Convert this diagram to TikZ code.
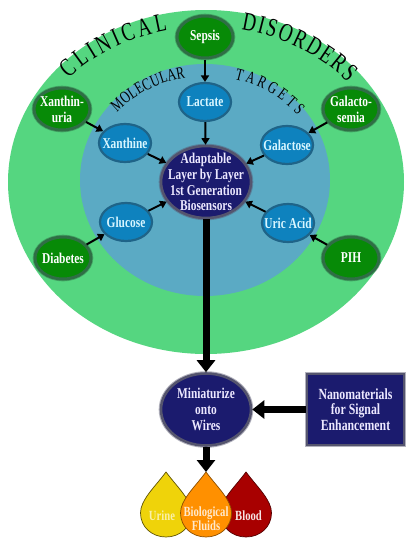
\documentclass[tikz,border=0pt]{standalone}
\usepackage{fontspec}
\setmainfont[FakeStretch=0.76]{Liberation Serif}
\newfontfamily\arcfont[FakeStretch=0.72]{Liberation Serif}
\usetikzlibrary{shapes.geometric,arrows.meta,decorations.text}
\definecolor{outerg}{HTML}{55D680}
\definecolor{innerb}{HTML}{5BAAC4}
\definecolor{nodeb}{HTML}{0E82BE}
\definecolor{rimb}{HTML}{1F6488}
\definecolor{nodeg}{HTML}{078A07}
\definecolor{rimg}{HTML}{2F6E45}
\definecolor{navy}{HTML}{1B1B6E}
\definecolor{rimn}{HTML}{55556E}
\definecolor{txtb}{HTML}{D8F6FF}
\definecolor{txtn}{HTML}{ECE8FF}
\definecolor{dropy}{HTML}{EFD30A}
\definecolor{dropo}{HTML}{FF9000}
\definecolor{dropr}{HTML}{A80000}
\tikzset{
  ell/.style={ellipse,inner xsep=-9pt,inner ysep=-9pt,align=center,font=\fontsize{15}{15.8}\selectfont\bfseries},
  softrim/.style={preaction={draw=#1,draw opacity=0.45,line width=4.6pt}},
  bluenode/.style={ell,fill=nodeb,draw=rimb,line width=2.2pt,text=txtb,minimum width=52pt,minimum height=38pt},
  greennode/.style={ell,softrim=rimg,fill=nodeg,draw=rimg,line width=3pt,text=white,minimum width=56pt,minimum height=42pt},
  navynode/.style={ell,softrim=rimn,fill=navy,draw=rimn,line width=2.6pt,text=txtn,minimum width=90pt,minimum height=72pt},
  thin arrow/.style={draw=black,line width=2pt,-{Triangle[width=8pt,length=6.5pt]}},
  thick arrow/.style={draw=black,line width=7pt,-{Triangle[width=18pt,length=12pt]}},
  droplabel/.style={font=\fontsize{14}{14}\selectfont\bfseries,inner sep=0pt,align=center},
  dropline/.style={line width=0.7pt},
}
\newcommand{\dropshape}[1]{(#1,472) .. controls (#1+12,488) and (#1+25.5,500) .. (#1+25.5,513) .. controls (#1+25.5,527) and (#1+14,537) .. (#1,537) .. controls (#1-14,537) and (#1-25.5,527) .. (#1-25.5,513) .. controls (#1-25.5,500) and (#1-12,488) .. (#1,472) -- cycle}
\begin{document}
\begin{tikzpicture}[x=1pt,y=-1pt]
\useasboundingbox (0,0) rectangle (417,550);
\fill[white] (0,0) rectangle (417,550);
\fill[outerg] (206,182) ellipse [x radius=198,y radius=172];
\fill[innerb] (205,180) ellipse [x radius=125,y radius=116];

% curved titles
\path[decorate,decoration={text along path,text align={fit to path},text={|\arcfont\fontsize{26}{26}\selectfont|CLINICAL}}]
  plot[domain=138:102,samples=30] ({206+185*cos(\x)},{182-155*sin(\x)});
\path[decorate,decoration={text along path,text align={fit to path},text={|\arcfont\fontsize{26}{26}\selectfont|DISORDERS}}]
  plot[domain=79:40,samples=30] ({206+185*cos(\x)},{182-155*sin(\x)});
\path[decorate,decoration={text along path,text align={fit to path},text={|\arcfont\fontsize{17}{17}\selectfont|MOLECULAR}}]
  plot[domain=139:100,samples=30] ({206+118*cos(\x)},{182-106*sin(\x)});
\path[decorate,decoration={text along path,text align={fit to path},text={|\arcfont\fontsize{17}{17}\selectfont|TARGETS}}]
  plot[domain=76:39,samples=30] ({206+118*cos(\x)},{182-106*sin(\x)});

% nodes
\node[greennode] (sepsis) at (205,37) {Sepsis};
\node[greennode] (xuria) at (62,109) {Xanthin-\\uria};
\node[greennode] (gsemia) at (351,109) {Galacto-\\semia};
\node[greennode] (diabetes) at (63,258) {Diabetes};
\node[greennode] (pih) at (351,258) {PIH};
\node[bluenode] (lactate) at (205,102) {Lactate};
\node[bluenode] (xanthine) at (125,143) {Xanthine};
\node[bluenode] (galactose) at (287,145) {Galactose};
\node[bluenode] (glucose) at (126,222) {Glucose};
\node[bluenode] (uric) at (288,223) {Uric Acid};
\node[navynode] (sensor) at (206,182) {Adaptable\\Layer by Layer\\1st Generation\\Biosensors};
\node[navynode] (mini) at (206,409.5) {Miniaturize\\onto\\Wires};
\node[rectangle,softrim=rimn,fill=navy,draw=rimn,line width=2.2pt,text=txtn,align=center,inner sep=0pt,
  minimum width=97pt,minimum height=71pt,font=\fontsize{15.5}{15.8}\selectfont\bfseries] (nano) at (355.5,409.5)
  {Nanomaterials\\for Signal\\Enhancement};

% drops
\draw[dropline,fill=dropy,draw=black!60!dropy] \dropshape{166};
\draw[dropline,fill=dropr,draw=black!50!dropr] \dropshape{246};
\draw[dropline,fill=dropo,draw=black!45!dropo] \dropshape{206};
\coordinate (biotip) at (206,472);
\node[droplabel,text=dropy!35!white] (urine) at (162,516) {Urine};
\node[droplabel,text=dropo!20!white] (bio) at (206,519) {Biological\\Fluids};
\node[droplabel,text=dropr!10!white] (blood) at (248.5,516) {Blood};

% connectors
\draw[thin arrow] (sepsis) -- (lactate);
\draw[thin arrow] (lactate) -- (sensor);
\draw[thin arrow] (xuria) -- (xanthine);
\draw[thin arrow] (gsemia) -- (galactose);
\draw[thin arrow] (diabetes) -- (glucose);
\draw[thin arrow] (pih) -- (uric);
\draw[thin arrow] (xanthine) -- (sensor);
\draw[thin arrow] (galactose) -- (sensor);
\draw[thin arrow] (glucose) -- (sensor);
\draw[thin arrow] (uric) -- (sensor);
\draw[thick arrow] (sensor) -- (mini);
\draw[thick arrow] (nano) -- (mini);
\draw[thick arrow] (mini) -- (biotip);
\end{tikzpicture}
\end{document}
